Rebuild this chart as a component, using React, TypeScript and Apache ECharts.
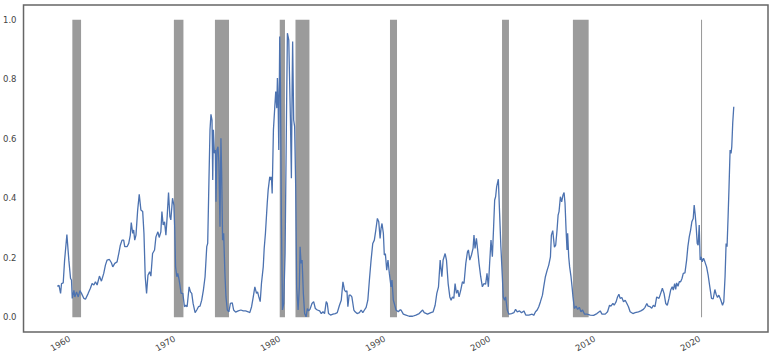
import React, { useEffect, useRef } from "react";
import * as echarts from "echarts";

// decimal years
const dates: number[] = [
  1958.81, 1958.98, 1959.13, 1959.22, 1959.38, 1959.51, 1959.73, 1959.92, 1960.08, 1960.17,
  1960.24, 1960.4, 1960.49, 1960.65, 1960.81, 1960.97, 1961.12, 1961.35, 1961.5, 1961.76,
  1961.97, 1962.13, 1962.3, 1962.45, 1962.61, 1962.83, 1963.02, 1963.24, 1963.4, 1963.56,
  1963.78, 1963.97, 1964.1, 1964.29, 1964.51, 1964.67, 1964.82, 1964.98, 1965.14, 1965.24,
  1965.46, 1965.62, 1965.77, 1965.86, 1966.0, 1966.09, 1966.19, 1966.31, 1966.47, 1966.62,
  1966.78, 1966.95, 1967.07, 1967.19, 1967.32, 1967.45, 1967.61, 1967.73, 1967.89, 1968.08,
  1968.21, 1968.4, 1968.52, 1968.68, 1968.78, 1968.9, 1969.03, 1969.16, 1969.28, 1969.41,
  1969.54, 1969.63, 1969.79, 1969.92, 1970.0, 1970.08, 1970.2, 1970.29, 1970.42, 1970.61,
  1970.77, 1970.93, 1971.05, 1971.18, 1971.37, 1971.5, 1971.62, 1971.75, 1971.94, 1972.1,
  1972.26, 1972.41, 1972.57, 1972.73, 1972.89, 1973.05, 1973.14, 1973.26, 1973.36, 1973.45,
  1973.55, 1973.62, 1973.68, 1973.78, 1973.87, 1973.93, 1974.02, 1974.12, 1974.21, 1974.31,
  1974.4, 1974.47, 1974.56, 1974.66, 1974.78, 1974.88, 1975.01, 1975.16, 1975.3, 1975.48,
  1975.61, 1975.8, 1976.05, 1976.3, 1976.53, 1976.75, 1977.0, 1977.15, 1977.32, 1977.48,
  1977.63, 1977.79, 1977.89, 1978.01, 1978.14, 1978.26, 1978.43, 1978.52, 1978.64, 1978.81,
  1978.9, 1979.05, 1979.15, 1979.21, 1979.28, 1979.4, 1979.53, 1979.62, 1979.72, 1979.78,
  1979.85, 1979.91, 1980.0, 1980.07, 1980.16, 1980.26, 1980.38, 1980.51, 1980.64, 1980.73,
  1980.86, 1981.02, 1981.11, 1981.18, 1981.23, 1981.33, 1981.42, 1981.52, 1981.61, 1981.75,
  1981.87, 1981.94, 1982.03, 1982.13, 1982.25, 1982.37, 1982.51, 1982.63, 1982.75, 1982.88,
  1983.07, 1983.23, 1983.39, 1983.58, 1983.8, 1983.96, 1984.12, 1984.27, 1984.43, 1984.53,
  1984.65, 1984.84, 1985.07, 1985.29, 1985.48, 1985.69, 1985.86, 1986.02, 1986.17, 1986.3,
  1986.4, 1986.49, 1986.61, 1986.74, 1986.87, 1987.06, 1987.18, 1987.37, 1987.59, 1987.75,
  1987.91, 1988.07, 1988.23, 1988.39, 1988.54, 1988.7, 1988.86, 1989.01, 1989.15, 1989.3,
  1989.43, 1989.56, 1989.65, 1989.74, 1989.87, 1989.96, 1990.06, 1990.19, 1990.31, 1990.44,
  1990.6, 1990.69, 1990.82, 1990.91, 1991.07, 1991.29, 1991.45, 1991.55, 1991.77, 1992.02,
  1992.33, 1992.66, 1992.97, 1993.28, 1993.61, 1993.76, 1994.08, 1994.39, 1994.61, 1994.8,
  1994.96, 1995.12, 1995.28, 1995.44, 1995.56, 1995.75, 1995.88, 1996.04, 1996.2, 1996.32,
  1996.45, 1996.58, 1996.7, 1996.83, 1996.96, 1997.08, 1997.24, 1997.4, 1997.55, 1997.72,
  1997.88, 1997.97, 1998.1, 1998.26, 1998.41, 1998.5, 1998.6, 1998.73, 1998.85, 1998.98,
  1999.14, 1999.3, 1999.45, 1999.61, 1999.74, 1999.87, 1999.99, 2000.12, 2000.25, 2000.37,
  2000.47, 2000.56, 2000.66, 2000.82, 2000.94, 2001.06, 2001.2, 2001.29, 2001.41, 2001.51,
  2001.67, 2001.82, 2002.08, 2002.3, 2002.46, 2002.62, 2002.84, 2003.03, 2003.25, 2003.43,
  2003.72, 2004.04, 2004.19, 2004.36, 2004.52, 2004.67, 2004.83, 2005.02, 2005.14, 2005.3,
  2005.47, 2005.62, 2005.78, 2005.87, 2006.0, 2006.16, 2006.28, 2006.41, 2006.51, 2006.6,
  2006.73, 2006.85, 2006.98, 2007.08, 2007.17, 2007.27, 2007.36, 2007.42, 2007.52, 2007.61,
  2007.74, 2007.84, 2007.93, 2008.06, 2008.22, 2008.37, 2008.53, 2008.69, 2008.84, 2009.03,
  2009.26, 2009.57, 2009.89, 2010.21, 2010.52, 2010.69, 2011.0, 2011.22, 2011.41, 2011.54,
  2011.73, 2011.85, 2012.04, 2012.17, 2012.3, 2012.42, 2012.58, 2012.74, 2012.9, 2013.06,
  2013.21, 2013.37, 2013.63, 2013.85, 2014.16, 2014.39, 2014.63, 2014.79, 2014.96, 2015.08,
  2015.27, 2015.43, 2015.58, 2015.74, 2015.9, 2016.12, 2016.28, 2016.44, 2016.6, 2016.76,
  2016.91, 2017.07, 2017.23, 2017.38, 2017.48, 2017.61, 2017.71, 2017.8, 2017.93, 2018.05,
  2018.18, 2018.31, 2018.43, 2018.59, 2018.75, 2018.87, 2019.0, 2019.13, 2019.25, 2019.38,
  2019.47, 2019.57, 2019.66, 2019.76, 2019.85, 2019.95, 2020.04, 2020.14, 2020.23, 2020.36,
  2020.49, 2020.65, 2020.8, 2020.96, 2021.12, 2021.28, 2021.44, 2021.56, 2021.69, 2021.82,
  2021.98, 2022.17, 2022.29, 2022.41, 2022.51, 2022.6, 2022.7, 2022.79, 2022.89, 2022.98,
  2023.05, 2023.14, 2023.24,
];

const values: number[] = [
  0.104, 0.107, 0.08, 0.113, 0.115, 0.19, 0.278, 0.19, 0.13, 0.125,
  0.063, 0.09, 0.068, 0.085, 0.068, 0.089, 0.08, 0.063, 0.06, 0.08,
  0.097, 0.113, 0.108, 0.119, 0.108, 0.138, 0.121, 0.147, 0.175, 0.192,
  0.194, 0.183, 0.169, 0.181, 0.186, 0.214, 0.242, 0.259, 0.259, 0.237,
  0.237, 0.248, 0.276, 0.318, 0.282, 0.293, 0.259, 0.276, 0.36, 0.413,
  0.36, 0.355, 0.282, 0.136, 0.08, 0.141, 0.153, 0.138, 0.214, 0.226,
  0.27, 0.287, 0.268, 0.287, 0.355, 0.31, 0.321, 0.276, 0.338, 0.419,
  0.338, 0.327, 0.4, 0.377, 0.3, 0.17, 0.136, 0.147, 0.125, 0.08,
  0.08, 0.035, 0.04, 0.035, 0.102, 0.085, 0.08, 0.046, 0.015, 0.024,
  0.035, 0.037, 0.057, 0.091, 0.136, 0.237, 0.248, 0.461, 0.63, 0.682,
  0.663, 0.461, 0.63, 0.551, 0.562, 0.388, 0.562, 0.573, 0.517, 0.304,
  0.602, 0.484, 0.259, 0.282, 0.147, 0.068, 0.024, 0.018, 0.046, 0.048,
  0.024, 0.017, 0.021, 0.024, 0.021, 0.021, 0.018, 0.015, 0.035, 0.068,
  0.102, 0.08, 0.085, 0.068, 0.052, 0.113, 0.169, 0.231, 0.282, 0.383,
  0.428, 0.472, 0.461, 0.472, 0.416, 0.63, 0.708, 0.759, 0.703, 0.804,
  0.72, 0.562, 0.944, 0.775, 0.327, 0.024, 0.046, 0.214, 0.663, 0.955,
  0.933, 0.663, 0.467, 0.775, 0.927, 0.663, 0.641, 0.439, 0.102, 0.024,
  0.102, 0.237, 0.181, 0.192, 0.08, 0.012, 0.001, 0.029, 0.021, 0.026,
  0.046, 0.052, 0.029, 0.024, 0.021, 0.012, 0.018, 0.012, 0.052, 0.046,
  0.012, 0.007, 0.01, 0.012, 0.015, 0.04, 0.057, 0.119, 0.091, 0.085,
  0.089, 0.035, 0.074, 0.074, 0.068, 0.024, 0.018, 0.012, 0.015, 0.024,
  0.015, 0.024, 0.033, 0.057, 0.125, 0.192, 0.248, 0.259, 0.293, 0.332,
  0.321, 0.265, 0.299, 0.315, 0.282, 0.209, 0.214, 0.158, 0.192, 0.147,
  0.102, 0.125, 0.057, 0.046, 0.024, 0.018, 0.024, 0.024, 0.01, 0.007,
  0.003, 0.003, 0.007, 0.012, 0.024, 0.015, 0.01, 0.015, 0.018, 0.04,
  0.08, 0.102, 0.192, 0.136, 0.192, 0.214, 0.192, 0.113, 0.068, 0.057,
  0.068, 0.063, 0.113, 0.08, 0.091, 0.068, 0.091, 0.119, 0.113, 0.181,
  0.22, 0.226, 0.192, 0.209, 0.231, 0.276, 0.231, 0.265, 0.226, 0.181,
  0.136, 0.102, 0.113, 0.111, 0.147, 0.102, 0.181, 0.259, 0.203, 0.304,
  0.394, 0.405, 0.439, 0.464, 0.349, 0.237, 0.136, 0.068, 0.057, 0.068,
  0.024, 0.01, 0.012, 0.015, 0.026, 0.018, 0.021, 0.015, 0.021, 0.007,
  0.007, 0.01, 0.006, 0.018, 0.024, 0.035, 0.052, 0.074, 0.102, 0.136,
  0.158, 0.175, 0.203, 0.276, 0.291, 0.235, 0.242, 0.293, 0.343, 0.355,
  0.405, 0.388, 0.411, 0.419, 0.383, 0.293, 0.226, 0.282, 0.203, 0.169,
  0.136, 0.102, 0.068, 0.029, 0.037, 0.026, 0.033, 0.018, 0.024, 0.01,
  0.01, 0.007, 0.006, 0.012, 0.021, 0.01, 0.01, 0.018, 0.04, 0.037,
  0.046, 0.04, 0.052, 0.068, 0.077, 0.063, 0.066, 0.052, 0.057, 0.046,
  0.035, 0.018, 0.012, 0.015, 0.018, 0.021, 0.026, 0.033, 0.046, 0.037,
  0.035, 0.03, 0.04, 0.035, 0.068, 0.063, 0.08, 0.097, 0.08, 0.046,
  0.04, 0.063, 0.091, 0.102, 0.091, 0.113, 0.093, 0.115, 0.104, 0.119,
  0.119, 0.13, 0.147, 0.149, 0.192, 0.237, 0.27, 0.293, 0.321, 0.332,
  0.377, 0.343, 0.304, 0.248, 0.242, 0.31, 0.192, 0.203, 0.186, 0.198,
  0.186, 0.169, 0.141, 0.102, 0.063, 0.061, 0.093, 0.077, 0.066, 0.074,
  0.06, 0.04, 0.052, 0.136, 0.248, 0.237, 0.338, 0.439, 0.562, 0.551,
  0.573, 0.652, 0.708,
];

// recession periods (decimal years)
const recessionStarts: number[] = [1960.25, 1969.92, 1973.83, 1980.0, 1981.5, 1990.5, 2001.17, 2007.92, 2020.12];
const recessionEnds: number[] = [1961.08, 1970.83, 1975.17, 1980.5, 1982.83, 1991.17, 2001.83, 2009.42, 2020.22];

const xTicks: number[] = [1960, 1970, 1980, 1990, 2000, 2010, 2020];
const yTicks: number[] = [0.0, 0.2, 0.4, 0.6, 0.8, 1.0];

export default function App() {
  const ref = useRef<HTMLDivElement>(null);

  useEffect(() => {
    if (!ref.current) return;
    const chart = echarts.init(ref.current, undefined, { renderer: "svg" });
    const lineData = dates.map((d, i) => [d, values[i]]);
    const areas = recessionStarts.map((s, i) => [
      { xAxis: s, yAxis: 0 },
      { xAxis: recessionEnds[i], yAxis: 1 },
    ]);
    chart.setOption({
      animation: false,
      backgroundColor: "#ffffff",
      textStyle: { fontFamily: "DejaVu Sans" },
      grid: {
        left: 21,
        top: 5,
        right: 5,
        bottom: 25,
        show: true,
        borderColor: "#666666",
        borderWidth: 1.5,
        backgroundColor: "transparent",
      },
      xAxis: {
        type: "value",
        min: 1955.6,
        max: 2026.5,
        axisLine: { show: false },
        axisTick: { show: false },
        splitLine: { show: false },
        axisLabel: {
          customValues: xTicks,
          rotate: 30,
          fontSize: 8.5,
          color: "#444444",
          margin: 6,
          formatter: (v: number) => String(Math.round(v)),
        },
      },
      yAxis: {
        type: "value",
        min: -0.05,
        max: 1.05,
        axisLine: { show: false },
        axisTick: { show: false },
        splitLine: { show: false },
        axisLabel: {
          customValues: yTicks,
          fontSize: 8.5,
          color: "#444444",
          margin: 7,
          formatter: (v: number) => v.toFixed(1),
        },
      },
      series: [
        {
          type: "line",
          data: [],
          z: 1,
          silent: true,
          markArea: {
            silent: true,
            itemStyle: { color: "#9b9b9b", opacity: 1 },
            data: areas,
          },
        },
        {
          type: "line",
          data: lineData,
          z: 3,
          showSymbol: false,
          symbol: "none",
          lineStyle: { color: "#4c72b0", width: 1.3 },
        },
      ],
    });
    return () => chart.dispose();
  }, []);

  return (
    <div
      ref={ref}
      style={{ position: "fixed", left: 0, top: 0, width: 773, height: 357 }}
    />
  );
}
